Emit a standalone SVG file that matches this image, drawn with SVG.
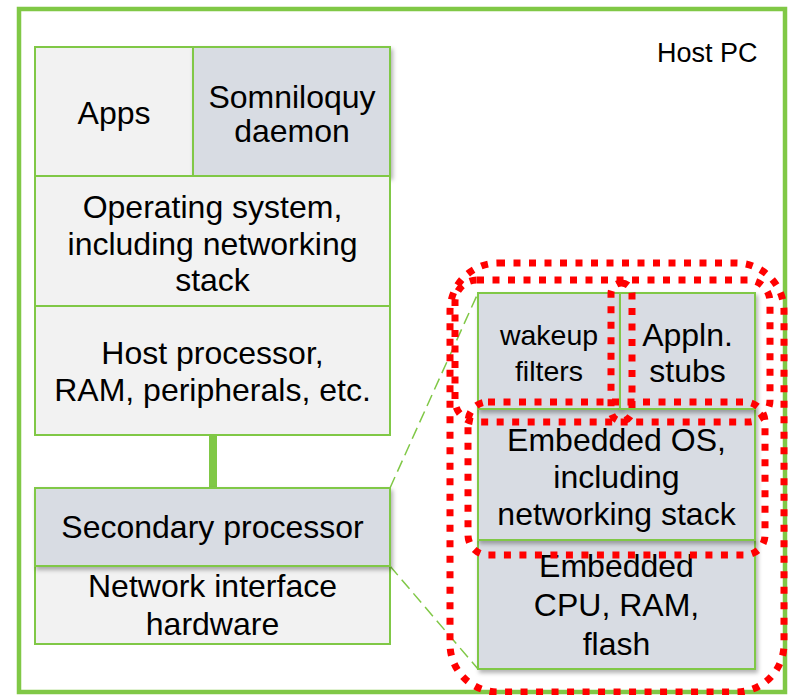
<svg xmlns="http://www.w3.org/2000/svg" width="792" height="695" viewBox="0 0 792 695">
  <style>
    text { font-family: "Liberation Sans", Arial, sans-serif; font-size: 32px; fill: #000; text-anchor: middle; }
    .light { fill: #F2F2F2; stroke: #80C846; stroke-width: 2; }
    .blue { fill: #D8DCE3; stroke: #80C846; stroke-width: 2; }
    .frame { fill: none; stroke: #80C846; stroke-width: 4.5; }
    .zoomline { fill: none; stroke: #80C846; stroke-width: 1.5; stroke-dasharray: 12 6; }
    .bus { fill: none; stroke: #80C846; stroke-width: 8; }
    .dots { fill: none; stroke: #FF0000; stroke-width: 7; stroke-dasharray: 7 8.5; }
    .small { font-size: 28.5px; }
  </style>
  <defs>
    <filter id="shadow" x="-10%" y="-10%" width="125%" height="130%">
      <feDropShadow dx="2" dy="3" stdDeviation="2" flood-color="#000" flood-opacity="0.3"/>
    </filter>
  </defs>

  <rect width="792" height="695" fill="#FFFFFF"/>

  <g id="host-pc">
    <rect class="frame" x="19" y="9" width="766" height="683"/>
    <text x="657" y="62" style="font-size:27px;text-anchor:start">Host PC</text>
  </g>

  <g id="connectors">
    <line class="bus" x1="213" y1="435" x2="213" y2="488"/>
    <line class="zoomline" x1="390" y1="488" x2="478" y2="293"/>
    <line class="zoomline" x1="390" y1="566" x2="478" y2="669"/>
  </g>

  <g id="apps">
    <rect class="light" x="35" y="47" width="158" height="129"/>
    <text x="114" y="124">Apps</text>
  </g>
  <g id="somniloquy-daemon">
    <rect class="blue" x="193" y="47" width="197" height="129" filter="url(#shadow)"/>
    <text x="292" y="108">Somniloquy</text>
    <text x="292" y="142">daemon</text>
  </g>
  <g id="operating-system">
    <rect class="light" x="35" y="176" width="355" height="130"/>
    <text x="212.5" y="218">Operating system,</text>
    <text x="212.5" y="255">including networking</text>
    <text x="212.5" y="291">stack</text>
  </g>
  <g id="host-processor">
    <rect class="light" x="35" y="306" width="355" height="129"/>
    <text x="212.5" y="364">Host processor,</text>
    <text x="212.5" y="401">RAM, peripherals, etc.</text>
  </g>
  <g id="network-interface">
    <rect class="light" x="35" y="566" width="355" height="78"/>
    <text x="212.5" y="597">Network interface</text>
    <text x="212.5" y="635">hardware</text>
  </g>
  <g id="secondary-processor">
    <rect class="blue" x="35" y="488" width="355" height="78" filter="url(#shadow)"/>
    <text x="212.5" y="538">Secondary processor</text>
  </g>

  <g id="embedded-cpu">
    <rect class="blue" x="478" y="540" width="277" height="129" filter="url(#shadow)"/>
    <text x="616.5" y="577">Embedded</text>
    <text x="616.5" y="616">CPU, RAM,</text>
    <text x="616.5" y="655">flash</text>
  </g>
  <g id="embedded-os">
    <rect class="blue" x="478" y="409" width="277" height="131" filter="url(#shadow)"/>
    <text x="616.5" y="451">Embedded OS,</text>
    <text x="616.5" y="488">including</text>
    <text x="616.5" y="525">networking stack</text>
  </g>
  <g id="wakeup-filters">
    <rect class="blue" x="478" y="293" width="142" height="116" filter="url(#shadow)"/>
    <text class="small" x="549" y="345">wakeup</text>
    <text class="small" x="549" y="381">filters</text>
  </g>
  <g id="appln-stubs">
    <rect class="blue" x="620" y="293" width="135" height="116" filter="url(#shadow)"/>
    <text x="687.5" y="346">Appln.</text>
    <text x="687.5" y="382">stubs</text>
  </g>

  <g id="highlights">
    <rect class="dots" x="450" y="263" width="334" height="429" rx="48"/>
    <rect class="dots" x="455" y="280" width="315" height="142" rx="22"/>
    <rect class="dots" x="468" y="402" width="297" height="153" rx="20"/>
    <rect class="dots" x="611" y="283" width="21" height="138" rx="10.5"/>
  </g>
</svg>
